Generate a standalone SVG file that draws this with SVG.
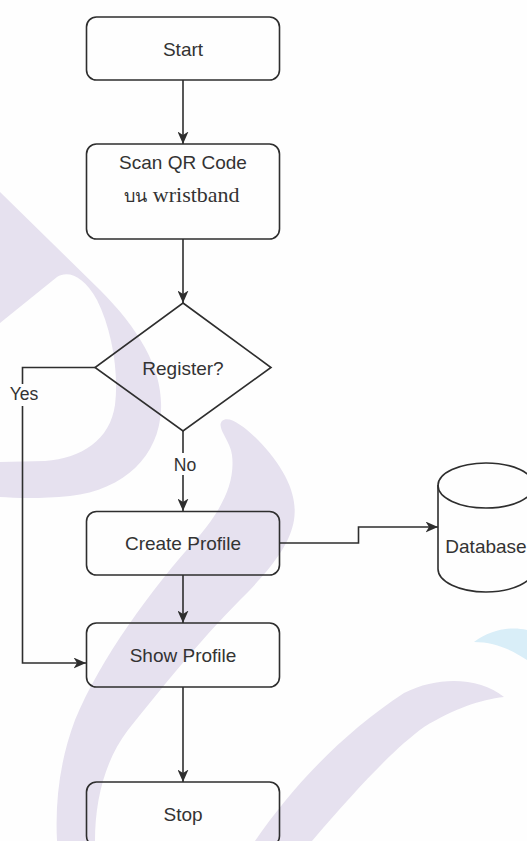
<svg xmlns="http://www.w3.org/2000/svg" width="527" height="841" viewBox="0 0 527 841">
  <style>
    .node { fill: none; stroke: #2e2e2e; stroke-width: 1.6; }
    .edge { fill: none; stroke: #2e2e2e; stroke-width: 1.6; }
    .lbl { font-family: "Liberation Sans", Arial, sans-serif; font-size: 19px; fill: #333; text-anchor: middle; }
    .elbl { font-family: "Liberation Sans", Arial, sans-serif; font-size: 17.6px; fill: #333; text-anchor: middle; }
    .thai { font-family: "Liberation Serif", "DejaVu Serif", serif; font-size: 22px; fill: #333; text-anchor: middle; }
    .thai-small { font-size: 18px; font-weight: normal; }
    .wm { fill: #e6e1ef; }
    .wm-blue { fill: #d9eef8; }
  </style>
  <defs>
    <marker id="arrow" markerUnits="userSpaceOnUse" markerWidth="13" markerHeight="11" refX="12.5" refY="5.5" orient="auto" viewBox="0 0 13 11">
      <path d="M0,0 L12.5,5.5 L0,11 L3.5,5.5 Z" fill="#2e2e2e"/>
    </marker>
  </defs>

  <!-- page background -->
  <rect x="0" y="0" width="527" height="841" fill="#fefefe"/>

  <!-- background artwork -->
  <g id="backdrop">
    <path class="wm" fill-rule="evenodd" d="M0,192 L100,290 C140,330 163,370 161,410 C159,455 125,490 70,496 C40,499 15,498 0,497 Z M0,323 L57,277 C68,270 84,276 97,300 C112,330 119,372 115,405 C110,440 82,458 45,461 L0,462 Z"/>
    <path class="wm" d="M222,421 C228,415 242,424 258,440 C285,468 298,495 294,520 C290,545 270,570 240,600 C200,640 160,690 128,730 C105,760 95,800 95,841 L57,841 C55,800 60,760 75,720 C100,660 150,590 200,535 C225,505 235,480 232,455 C230,440 216,428 222,421 Z"/>
    <path class="wm" d="M255,841 C290,790 340,735 404,693 C440,675 480,678 504,697 C480,700 455,708 424,727 C395,748 360,785 312,841 Z"/>
    <path class="wm-blue" d="M474,642 C490,630 510,626 527,630 L527,660 C512,650 495,642 474,642 Z"/>
  </g>

  <!-- connectors -->
  <g id="connectors">
    <path class="edge" d="M183,80 L183,144" marker-end="url(#arrow)"/>
    <path class="edge" d="M183,239 L183,303" marker-end="url(#arrow)"/>
    <path class="edge" d="M183,431 L183,511" marker-end="url(#arrow)"/>
    <path class="edge" d="M95,367.5 L22.5,367.5 L22.5,663 L86,663" marker-end="url(#arrow)"/>
    <path class="edge" d="M183,575 L183,623" marker-end="url(#arrow)"/>
    <path class="edge" d="M183,687 L183,782" marker-end="url(#arrow)"/>
    <path class="edge" d="M279,543 L358.5,543 L358.5,527 L438,527" marker-end="url(#arrow)"/>
    <g id="label-yes">
      <rect x="8" y="384" width="31" height="22" fill="#fefefe"/>
      <text class="elbl" x="24" y="400">Yes</text>
    </g>
    <g id="label-no">
      <rect x="172" y="453" width="26" height="22" fill="#fefefe"/>
      <text class="elbl" x="185" y="471">No</text>
    </g>
  </g>

  <!-- nodes -->
  <g id="start">
    <rect class="node" x="86.5" y="17" width="193" height="63" rx="10"/>
    <text class="lbl" x="183" y="56">Start</text>
  </g>
  <g id="scan">
    <rect class="node" x="86.5" y="144" width="193" height="95" rx="10"/>
    <text class="lbl" x="183" y="169">Scan QR Code</text>
    <text class="thai" x="182" y="202"><tspan class="thai-small">บน</tspan> wristband</text>
  </g>
  <g id="register">
    <path class="node" d="M183,303 L271,367.5 L183,431 L95,367.5 Z"/>
    <text class="lbl" x="183" y="375">Register?</text>
  </g>
  <g id="create-profile">
    <rect class="node" x="86.5" y="511.5" width="193" height="63.5" rx="10"/>
    <text class="lbl" x="183" y="550">Create Profile</text>
  </g>
  <g id="database">
    <path class="node" d="M438,485 L438,569 A48,23 0 0 0 534,569 L534,485"/>
    <ellipse class="node" cx="486" cy="485.5" rx="48" ry="22.5"/>
    <text class="lbl" x="486" y="553">Database</text>
  </g>
  <g id="show-profile">
    <rect class="node" x="86.5" y="623" width="193" height="64" rx="10"/>
    <text class="lbl" x="183" y="662">Show Profile</text>
  </g>
  <g id="stop">
    <rect class="node" x="86.5" y="782" width="193" height="64" rx="10"/>
    <text class="lbl" x="183" y="821">Stop</text>
  </g>
</svg>
